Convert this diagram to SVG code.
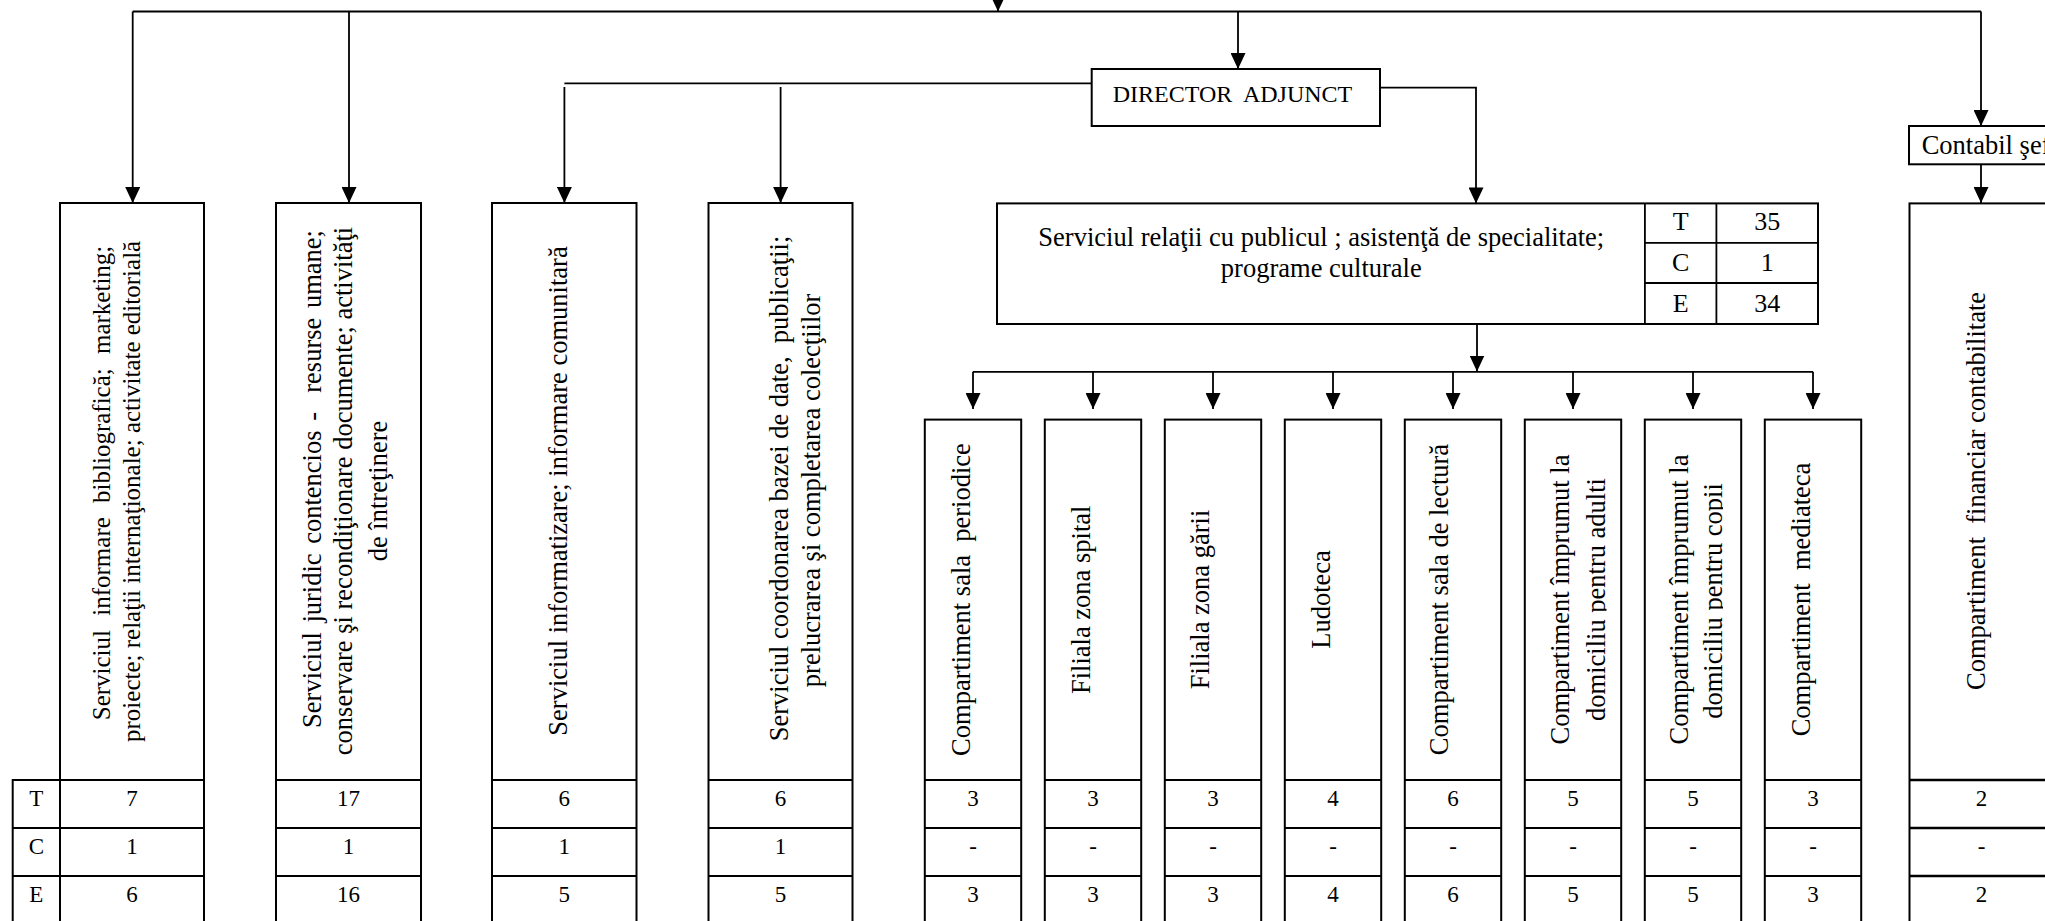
<svg xmlns="http://www.w3.org/2000/svg" width="2045" height="921" viewBox="0 0 2045 921">
<defs>
<marker id="ah" markerUnits="userSpaceOnUse" markerWidth="16" markerHeight="15" refX="16" refY="7.5" orient="auto" viewBox="0 0 16 15"><path d="M0,0 L16,7.5 L0,15 z" fill="#000"/></marker>
<clipPath id="c6"><rect x="1520" y="400" width="86.5" height="400"/></clipPath>
<clipPath id="c7"><rect x="1640" y="400" width="83" height="400"/></clipPath>
</defs>
<style>
.bx{fill:#fff;stroke:#000;stroke-width:2}
.ln{fill:none;stroke:#000;stroke-width:1.8}
.ar{fill:none;stroke:#000;stroke-width:1.8;marker-end:url(#ah)}
text{font-family:"Liberation Serif","Times New Roman",serif;fill:#000;white-space:pre}
.v{font-size:26.5px;text-anchor:middle}
.h{font-size:26.5px;text-anchor:middle}
.n{font-size:23px;text-anchor:middle}
.t{font-size:26px;text-anchor:middle}
</style>
<rect width="2045" height="921" fill="#fff"/>

<g id="connectors">
<path class="ar" d="M998,-12 V11.5"/>
<path class="ln" d="M132.7,11.5 H1981"/>
<path class="ar" d="M132.7,11.5 V203"/>
<path class="ar" d="M349,11.5 V203"/>
<path class="ar" d="M1238,11.5 V69"/>
<path class="ar" d="M1981,11.5 V126"/>
<path class="ln" d="M564.4,83.3 H1091.7"/>
<path class="ar" d="M564.4,87 V203"/>
<path class="ar" d="M780.6,87 V203"/>
<path class="ar" d="M1380,87.7 H1476 V203.4"/>
<path class="ar" d="M1981,164 V203"/>
<path class="ar" d="M1477,324 V371.5"/>
<path class="ln" d="M973,371.8 H1813"/>
<path class="ar" d="M973,371.8 V409"/>
<path class="ar" d="M1093,371.8 V409"/>
<path class="ar" d="M1213,371.8 V409"/>
<path class="ar" d="M1333,371.8 V409"/>
<path class="ar" d="M1453,371.8 V409"/>
<path class="ar" d="M1573,371.8 V409"/>
<path class="ar" d="M1693,371.8 V409"/>
<path class="ar" d="M1813,371.8 V409"/>
</g>

<g id="director-adjunct">
<rect class="bx" x="1091.7" y="69" width="288.3" height="57"/>
<text x="1232.5" y="101.7" style="font-size:24px;text-anchor:middle">DIRECTOR  ADJUNCT</text>
</g>

<g id="contabil-sef">
<rect class="bx" x="1909" y="126" width="160" height="38.3"/>
<text x="1921.7" y="153.5" style="font-size:26.5px">Contabil şef</text>
</g>

<g id="tce-label">
<rect class="bx" x="12.7" y="780" width="47.3" height="160"/>
<path class="ln" d="M12.7,828 H60 M12.7,876 H60"/>
<text class="n" x="36.3" y="806">T</text>
<text class="n" x="36.3" y="854">C</text>
<text class="n" x="36.3" y="902">E</text>
</g>

<g id="serv-informare-bibliografica">
<rect class="bx" x="60" y="203" width="144" height="740"/>
<path class="ln" d="M60,780 H204 M60,828 H204 M60,876 H204"/>
<text class="v" transform="translate(110,483) rotate(-90)" style="font-size:25px;word-spacing:8px">Serviciul informare bibliografică; marketing;</text>
<text class="v" transform="translate(139.5,491.4) rotate(-90)" style="font-size:25px">proiecte; relaţii internaţionale; activitate editorială</text>
<text class="n" x="132" y="806">7</text>
<text class="n" x="132" y="854">1</text>
<text class="n" x="132" y="902">6</text>
</g>

<g id="serv-juridic">
<rect class="bx" x="276" y="203" width="145" height="740"/>
<path class="ln" d="M276,780 H421 M276,828 H421 M276,876 H421"/>
<text class="v" transform="translate(320.5,479) rotate(-90)" style="word-spacing:3px">Serviciul juridic contencios -  resurse umane;</text>
<text class="v" transform="translate(352,491) rotate(-90)">conservare şi recondiţionare documente; activităţi</text>
<text class="v" transform="translate(386.5,491) rotate(-90)">de întreţinere</text>
<text class="n" x="348.5" y="806">17</text>
<text class="n" x="348.5" y="854">1</text>
<text class="n" x="348.5" y="902">16</text>
</g>

<g id="serv-informatizare">
<rect class="bx" x="492" y="203" width="144.5" height="740"/>
<path class="ln" d="M492,780 H636.5 M492,828 H636.5 M492,876 H636.5"/>
<text class="v" transform="translate(567,491) rotate(-90)">Serviciul informatizare; informare comunitară</text>
<text class="n" x="564.3" y="806">6</text>
<text class="n" x="564.3" y="854">1</text>
<text class="n" x="564.3" y="902">5</text>
</g>

<g id="serv-coordonare">
<rect class="bx" x="708.5" y="203" width="144" height="740"/>
<path class="ln" d="M708.5,780 H852.5 M708.5,828 H852.5 M708.5,876 H852.5"/>
<text class="v" transform="translate(788,488.5) rotate(-90)">Serviciul coordonarea bazei de date,  publicaţii;</text>
<text class="v" transform="translate(820,490.4) rotate(-90)">prelucrarea şi completarea colecţiilor</text>
<text class="n" x="780.5" y="806">6</text>
<text class="n" x="780.5" y="854">1</text>
<text class="n" x="780.5" y="902">5</text>
</g>

<g id="serv-relatii-public">
<rect class="bx" x="997" y="203.4" width="821" height="120.6"/>
<path class="ln" d="M1644.9,203.4 V324 M1716.4,203.4 V324 M1644.9,242.8 H1818 M1644.9,283 H1818"/>
<text class="h" x="1321.3" y="246">Serviciul relaţii cu publicul ; asistenţă de specialitate;</text>
<text class="h" x="1321.3" y="276.5">programe culturale</text>
<text class="t" x="1680.6" y="230">T</text>
<text class="t" x="1767.2" y="230">35</text>
<text class="t" x="1680.6" y="270.5">C</text>
<text class="t" x="1767.2" y="270.5">1</text>
<text class="t" x="1680.6" y="311.5">E</text>
<text class="t" x="1767.2" y="311.5">34</text>
</g>

<g id="comp-periodice">
<rect class="bx" x="924.8" y="419.6" width="96.4" height="520"/>
<path class="ln" d="M924.8,780 H1021.2 M924.8,828 H1021.2 M924.8,876 H1021.2"/>
<text class="v" transform="translate(969.5,599.5) rotate(-90)">Compartiment sala  periodice</text>
<text class="n" x="973" y="806">3</text>
<text class="n" x="973" y="854">-</text>
<text class="n" x="973" y="902">3</text>
</g>

<g id="filiala-spital">
<rect class="bx" x="1044.8" y="419.6" width="96.4" height="520"/>
<path class="ln" d="M1044.8,780 H1141.2 M1044.8,828 H1141.2 M1044.8,876 H1141.2"/>
<text class="v" transform="translate(1090,599.8) rotate(-90)">Filiala zona spital</text>
<text class="n" x="1093" y="806">3</text>
<text class="n" x="1093" y="854">-</text>
<text class="n" x="1093" y="902">3</text>
</g>

<g id="filiala-garii">
<rect class="bx" x="1164.8" y="419.6" width="96.4" height="520"/>
<path class="ln" d="M1164.8,780 H1261.2 M1164.8,828 H1261.2 M1164.8,876 H1261.2"/>
<text class="v" transform="translate(1208.5,599.5) rotate(-90)">Filiala zona gării</text>
<text class="n" x="1213" y="806">3</text>
<text class="n" x="1213" y="854">-</text>
<text class="n" x="1213" y="902">3</text>
</g>

<g id="ludoteca">
<rect class="bx" x="1284.8" y="419.6" width="96.4" height="520"/>
<path class="ln" d="M1284.8,780 H1381.2 M1284.8,828 H1381.2 M1284.8,876 H1381.2"/>
<text class="v" transform="translate(1329.5,599.5) rotate(-90)">Ludoteca</text>
<text class="n" x="1333" y="806">4</text>
<text class="n" x="1333" y="854">-</text>
<text class="n" x="1333" y="902">4</text>
</g>

<g id="comp-lectura">
<rect class="bx" x="1404.8" y="419.6" width="96.4" height="520"/>
<path class="ln" d="M1404.8,780 H1501.2 M1404.8,828 H1501.2 M1404.8,876 H1501.2"/>
<text class="v" transform="translate(1448,599.5) rotate(-90)">Compartiment sala de lectură</text>
<text class="n" x="1453" y="806">6</text>
<text class="n" x="1453" y="854">-</text>
<text class="n" x="1453" y="902">6</text>
</g>

<g id="comp-imprumut-adulti">
<rect class="bx" x="1524.8" y="419.6" width="96.4" height="520"/>
<path class="ln" d="M1524.8,780 H1621.2 M1524.8,828 H1621.2 M1524.8,876 H1621.2"/>
<text class="v" transform="translate(1568.5,599.5) rotate(-90)">Compartiment împrumut la</text>
<g clip-path="url(#c6)"><text class="v" transform="translate(1605,599.5) rotate(-90)">domiciliu pentru adulti</text></g>
<text class="n" x="1573" y="806">5</text>
<text class="n" x="1573" y="854">-</text>
<text class="n" x="1573" y="902">5</text>
</g>

<g id="comp-imprumut-copii">
<rect class="bx" x="1644.8" y="419.6" width="96.4" height="520"/>
<path class="ln" d="M1644.8,780 H1741.2 M1644.8,828 H1741.2 M1644.8,876 H1741.2"/>
<text class="v" transform="translate(1687.5,599.5) rotate(-90)">Compartiment împrumut la</text>
<g clip-path="url(#c7)"><text class="v" transform="translate(1721.5,601) rotate(-90)">domiciliu pentru copii</text></g>
<text class="n" x="1693" y="806">5</text>
<text class="n" x="1693" y="854">-</text>
<text class="n" x="1693" y="902">5</text>
</g>

<g id="comp-mediateca">
<rect class="bx" x="1764.8" y="419.6" width="96.4" height="520"/>
<path class="ln" d="M1764.8,780 H1861.2 M1764.8,828 H1861.2 M1764.8,876 H1861.2"/>
<text class="v" transform="translate(1809.5,599.5) rotate(-90)">Compartiment  mediateca</text>
<text class="n" x="1813" y="806">3</text>
<text class="n" x="1813" y="854">-</text>
<text class="n" x="1813" y="902">3</text>
</g>

<g id="comp-financiar">
<rect class="bx" x="1909.5" y="203.4" width="144" height="740"/>
<path class="ln" d="M1909.5,780 H2053.5 M1909.5,828 H2053.5 M1909.5,876 H2053.5" style="stroke-width:2.4"/>
<text class="v" transform="translate(1984.5,491) rotate(-90)">Compartiment  financiar contabilitate</text>
<text class="n" x="1981.5" y="806">2</text>
<text class="n" x="1981.5" y="854">-</text>
<text class="n" x="1981.5" y="902">2</text>
</g>
</svg>
